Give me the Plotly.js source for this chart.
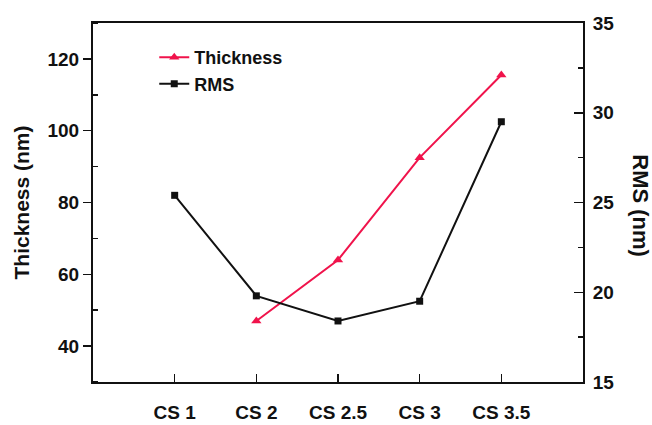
<!DOCTYPE html>
<html>
<head>
<meta charset="utf-8">
<script src="https://cdn.plot.ly/plotly-3.0.1.min.js"></script>
<style>
  html, body { margin: 0; padding: 0; background: #ffffff; }
  #chart { width: 652px; height: 425px; }
</style>
</head>
<body>
<div id="chart"></div>
<script>
// Samples along the x axis
const samples = ['CS 1', 'CS 2', 'CS 2.5', 'CS 3', 'CS 3.5'];
// Film thickness (nm), left axis; no value for CS 1
const thickness = [null, 47, 64, 92.5, 115.5];
// Surface roughness RMS (nm), right axis
const rms = [25.4, 19.8, 18.4, 19.5, 29.5];

const leftTicks = [40, 60, 80, 100, 120];
const rightTicks = [15, 20, 25, 30, 35];

const FONT = 'Arial, "Liberation Sans", sans-serif';
const INK = '#111111';
const RED = '#f0134b';

const traces = [
  {
    x: samples, y: thickness, name: 'Thickness', yaxis: 'y',
    type: 'scatter', mode: 'lines+markers',
    line: { color: RED, width: 2 },
    marker: { symbol: 'triangle-up', size: 9, color: RED }
  },
  {
    x: samples, y: rms, name: 'RMS', yaxis: 'y2',
    type: 'scatter', mode: 'lines+markers',
    line: { color: INK, width: 2 },
    marker: { symbol: 'square', size: 7, color: INK }
  }
];

const layout = {
  width: 652, height: 425,
  margin: { l: 93, r: 69, t: 23, b: 43 },
  paper_bgcolor: '#ffffff', plot_bgcolor: '#ffffff',
  font: { family: FONT, color: INK, weight: 'bold' },
  showlegend: true,
  legend: {
    x: 0.125, y: 0.955, xanchor: 'left', yanchor: 'top',
    bgcolor: 'rgba(0,0,0,0)', borderwidth: 0,
    font: { family: FONT, size: 18, color: INK, weight: 'bold' },
    tracegroupgap: 0
  },
  xaxis: {
    type: 'category', range: [-1, 5],
    showline: true, linecolor: INK, linewidth: 2, mirror: true,
    ticks: 'inside', ticklen: 8, tickwidth: 1.5, tickcolor: INK,
    ticklabelstandoff: 12,
    tickfont: { family: FONT, size: 19, color: INK, weight: 'bold' },
    showgrid: false, zeroline: false, fixedrange: true
  },
  yaxis: {
    range: [30, 130], tickvals: leftTicks,
    showline: true, linecolor: INK, linewidth: 2,
    ticks: 'outside', ticklen: 8, tickwidth: 1.5, tickcolor: INK,
    minor: { ticks: 'inside', ticklen: 5, tickwidth: 1.5, tickcolor: INK, dtick: 20, tick0: 50 },
    tickfont: { family: FONT, size: 19, color: INK, weight: 'bold' },
    title: { text: 'Thickness (nm)', font: { family: FONT, size: 21, color: INK, weight: 'bold' }, standoff: 12 },
    showgrid: false, zeroline: false, fixedrange: true
  },
  yaxis2: {
    overlaying: 'y', side: 'right',
    range: [15, 35], tickvals: rightTicks,
    showline: true, linecolor: INK, linewidth: 2,
    ticks: 'inside', ticklen: 9, tickwidth: 1.5, tickcolor: INK,
    minor: { ticks: 'inside', ticklen: 5, tickwidth: 1.5, tickcolor: INK, dtick: 5, tick0: 17.5 },
    ticklabelstandoff: 4,
    tickfont: { family: FONT, size: 19, color: INK, weight: 'bold' },
    showgrid: false, zeroline: false, fixedrange: true
  },
  annotations: [
    {
      text: 'RMS (nm)', textangle: 90,
      xref: 'paper', yref: 'paper', x: 1.118, y: 0.49,
      xanchor: 'center', yanchor: 'middle', showarrow: false,
      font: { family: FONT, size: 22, color: INK, weight: 'bold' }
    }
  ]
};

Plotly.newPlot('chart', traces, layout, { displayModeBar: false, staticPlot: true });
</script>
</body>
</html>
